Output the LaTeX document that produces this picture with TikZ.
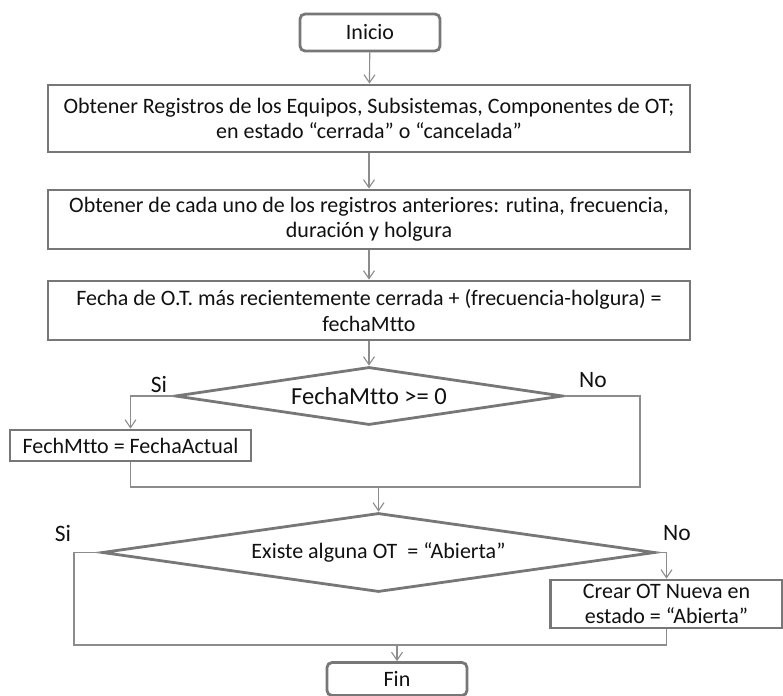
\documentclass[tikz,border=0pt]{standalone}
\usepackage{fontspec}
\setmainfont[Ligatures=NoCommon]{Carlito}
\usetikzlibrary{arrows.meta,shapes.geometric}
\definecolor{boxline}{HTML}{777777}
\definecolor{conline}{HTML}{8C8C8C}
\definecolor{txt}{HTML}{111111}
\begin{document}
\begin{tikzpicture}[x=1pt,y=-1pt,
  every node/.style={text=txt,font=\fontsize{22}{25.5}\selectfont},
  procbox/.style={draw=boxline,line width=2.8pt,fill=white,align=center,inner sep=0pt},
  termbox/.style={procbox,rounded corners=5pt},
  decision/.style={draw=boxline,line width=2.8pt,fill=white,diamond,inner sep=0pt},
  conn/.style={draw=conline,line width=1.1pt},
  arr/.style={conn,-{Straight Barb[length=8pt,width=11pt]}},
  lbl/.style={inner sep=0pt,font=\fontsize{23.5}{27}\selectfont}
]
\useasboundingbox (0,0) rectangle (783,695);
\node[termbox,minimum width=140pt,minimum height=37pt] (inicio) at (370,32.5) {Inicio};
\node[procbox,minimum width=642pt,minimum height=67pt] (b1) at (369,118.5)
  {Obtener Registros de los Equipos, Subsistemas, Componentes de OT;\\en estado “cerrada” o “cancelada”};
\node[procbox,minimum width=642pt,minimum height=59pt] (b2) at (369,219.5)
  {Obtener de cada uno de los registros anteriores: rutina, frecuencia,\\duración y holgura};
\node[procbox,minimum width=642pt,minimum height=59pt] (b3) at (369,310.5)
  {Fecha de O.T. más recientemente cerrada + (frecuencia-holgura) =\\fechaMtto};
\node[decision,shape aspect=6.7,minimum width=388pt,minimum height=58pt,font=\fontsize{24.5}{28}\selectfont] (d1) at (369,396) {FechaMtto >= 0};
\node[procbox,minimum width=241pt,minimum height=31pt] (fa) at (130.5,445.5) {FechMtto = FechaActual};
\node[decision,shape aspect=7,minimum width=553pt,minimum height=79pt] (d2) at (378.5,552.5) {Existe alguna OT\ \ = “Abierta”};
\node[procbox,minimum width=232pt,minimum height=48pt] (crear) at (666.5,604) {Crear OT Nueva en\\estado = “Abierta”};
\node[termbox,minimum width=140pt,minimum height=33pt] (fin) at (397,679) {Fin};

\node[lbl] (si1) at (159,384) {Si};
\node[lbl] (no1) at (593,380) {No};
\node[lbl] (si2) at (63,533) {Si};
\node[lbl] (no2) at (677,533) {No};

\coordinate (j1) at (378.5,487);
\coordinate (r1) at (640,487);
\coordinate (l2) at (74,645);
\coordinate (j2) at (397,645);

\draw[arr] (inicio) -- (b1);
\draw[arr] (b1) -- (b2);
\draw[arr] (b2) -- (b3);
\draw[arr] (b3.south -| d1.north) -- (d1.north);
\draw[arr] (d1.west) -| (fa.north);
\draw[conn] (fa.south) |- (j1);
\draw[conn] (d1.east) -| (r1) -- (j1);
\draw[arr] (j1) -- (d2.north);
\draw[conn] (d2.west) -| (l2) -- (j2);
\draw[arr] (d2.east) -| (crear.north);
\draw[conn] (crear.south) |- (j2);
\draw[arr] (j2) -- (fin.north);
\end{tikzpicture}
\end{document}
